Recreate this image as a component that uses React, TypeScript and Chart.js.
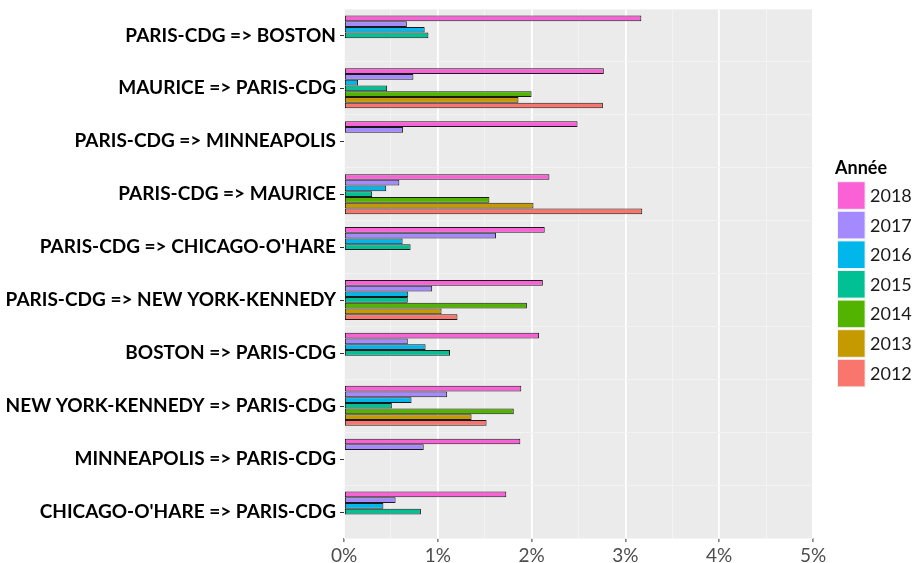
import React, { useEffect, useRef } from "react";
import { Chart, registerables } from "chart.js";

Chart.register(...registerables);

const categories = [
  "PARIS-CDG => BOSTON",
  "MAURICE => PARIS-CDG",
  "PARIS-CDG => MINNEAPOLIS",
  "PARIS-CDG => MAURICE",
  "PARIS-CDG => CHICAGO-O'HARE",
  "PARIS-CDG => NEW YORK-KENNEDY",
  "BOSTON => PARIS-CDG",
  "NEW YORK-KENNEDY => PARIS-CDG",
  "MINNEAPOLIS => PARIS-CDG",
  "CHICAGO-O'HARE => PARIS-CDG",
];

const years = ["2018", "2017", "2016", "2015", "2014", "2013", "2012"];

const v2018 = [3.17, 2.77, 2.49, 2.19, 2.14, 2.12, 2.08, 1.89, 1.88, 1.73];
const v2017 = [0.67, 0.74, 0.63, 0.59, 1.62, 0.94, 0.68, 1.1, 0.85, 0.55];
const v2016 = [0.86, 0.15, null, 0.45, 0.625, 0.685, 0.87, 0.72, null, 0.42];
const v2015 = [0.9, 0.46, null, 0.3, 0.71, 0.68, 1.13, 0.51, null, 0.82];
const v2014 = [null, 2.0, null, 1.55, null, 1.95, null, 1.81, null, null];
const v2013 = [null, 1.86, null, 2.02, null, 1.04, null, 1.36, null, null];
const v2012 = [null, 2.76, null, 3.18, null, 1.21, null, 1.52, null, null];

const series = [v2018, v2017, v2016, v2015, v2014, v2013, v2012];

const colors = ["#FB61D7", "#A58AFF", "#00B6EB", "#00C094", "#53B400", "#C49A00", "#F8766D"];

const xTickValues = [0, 1, 2, 3, 4, 5];
const legendTitle = "Année";

const FONT = "Lato";

const bgPlugin = {
  id: "panelBg",
  beforeDraw(chart: any) {
    const { ctx, chartArea } = chart;
    ctx.save();
    ctx.fillStyle = "#EBEBEB";
    ctx.fillRect(chartArea.left, chartArea.top, chartArea.right - chartArea.left, chartArea.bottom - chartArea.top);
    ctx.restore();
  },
};

const extrasPlugin = {
  id: "extras",
  afterDraw(chart: any) {
    const { ctx, chartArea } = chart;
    const yScale = chart.scales.y;
    ctx.save();
    // y tick marks at category centres
    ctx.strokeStyle = "#333333";
    ctx.lineWidth = 1;
    categories.forEach((_, i) => {
      const y = Math.round(yScale.getPixelForValue(i)) + 0.5;
      ctx.beginPath();
      ctx.moveTo(chartArea.left - 4, y);
      ctx.lineTo(chartArea.left, y);
      ctx.stroke();
    });
    // legend
    const lx = 837.5;
    ctx.fillStyle = "#000000";
    ctx.font = `bold 18px ${FONT}`;
    ctx.textAlign = "left";
    ctx.textBaseline = "middle";
    ctx.fillText(legendTitle, 835, 168);
    ctx.font = `18px ${FONT}`;
    years.forEach((yr, i) => {
      const top = 181.7 + i * 29.6;
      ctx.fillStyle = colors[i];
      ctx.fillRect(lx, top, 27.6, 27.6);
      ctx.strokeStyle = "#F2F2F2";
      ctx.lineWidth = 1;
      ctx.strokeRect(lx, top, 27.6, 27.6);
      ctx.fillStyle = "#1A1A1A";
      ctx.fillText(yr, 870, top + 14.5);
    });
    ctx.restore();
  },
};

export default function App() {
  const ref = useRef<HTMLCanvasElement | null>(null);

  useEffect(() => {
    let chart: any = null;
    let cancelled = false;
    const make = () => {
      if (cancelled || !ref.current) return;
      chart = new Chart(ref.current, {
        type: "bar",
        data: {
          labels: categories,
          datasets: years.map((yr, i) => ({
            label: yr,
            data: series[i],
            backgroundColor: colors[i],
            borderColor: "#1a1a1a",
            borderWidth: 1,
            borderSkipped: false,
            categoryPercentage: 0.756,
            barPercentage: 1,
          })),
        },
        options: {
          indexAxis: "y",
          responsive: false,
          animation: false,
          devicePixelRatio: 1,
          layout: { padding: { top: 9, right: 104, left: 0, bottom: 0 } },
          plugins: { legend: { display: false }, tooltip: { enabled: false } },
          scales: {
            x: {
              type: "linear",
              position: "bottom",
              min: 0,
              max: 5,
              afterBuildTicks: (scale: any) => {
                const t: any[] = [];
                xTickValues.forEach((v, i) => {
                  t.push({ value: v });
                  if (i < xTickValues.length - 1) t.push({ value: v + 0.5 });
                });
                scale.ticks = t;
              },
              ticks: {
                autoSkip: false,
                maxRotation: 0,
                color: "#4D4D4D",
                padding: 2,
                font: { family: FONT, size: 19 },
                callback: (v: any) => (Number.isInteger(v) ? `${v}%` : ""),
              },
              grid: {
                color: (c: any) => (c.tick && Number.isInteger(c.tick.value) ? "#FFFFFF" : "#F4F4F4"),
                lineWidth: (c: any) => (c.tick && Number.isInteger(c.tick.value) ? 1.8 : 0.9),
                tickColor: (c: any) => (c.tick && Number.isInteger(c.tick.value) ? "#333333" : "rgba(0,0,0,0)"),
                tickLength: 4,
                tickWidth: 1,
                drawTicks: true,
              },
              border: { display: false },
              afterFit: (s: any) => {
                s.height = 25;
                s.paddingLeft = 0;
              },
            },
            y: {
              type: "category",
              offset: true,
              ticks: {
                autoSkip: false,
                color: "#000000",
                padding: 8,
                font: { family: FONT, size: 19, weight: "bold" },
              },
              grid: { offset: true, color: "#F4F4F4", lineWidth: 0.9, drawTicks: false },
              border: { display: false },
              afterFit: (s: any) => {
                s.width = 344;
                s.paddingTop = 0;
                s.paddingBottom = 0;
              },
            },
          },
        } as any,
        plugins: [bgPlugin, extrasPlugin],
      });
    };
    const fontsReady = (document as any).fonts
      ? Promise.all([
          (document as any).fonts.load(`bold 19px ${FONT}`),
          (document as any).fonts.load(`18px ${FONT}`),
        ]).catch(() => null)
      : Promise.resolve(null);
    fontsReady.then(make);
    return () => {
      cancelled = true;
      if (chart) chart.destroy();
    };
  }, []);

  return (
    <div style={{ position: "absolute", left: 0, top: 0, width: 917, height: 563 }}>
      <canvas ref={ref} width={917} height={563} style={{ width: 917, height: 563, display: "block" }} />
    </div>
  );
}
